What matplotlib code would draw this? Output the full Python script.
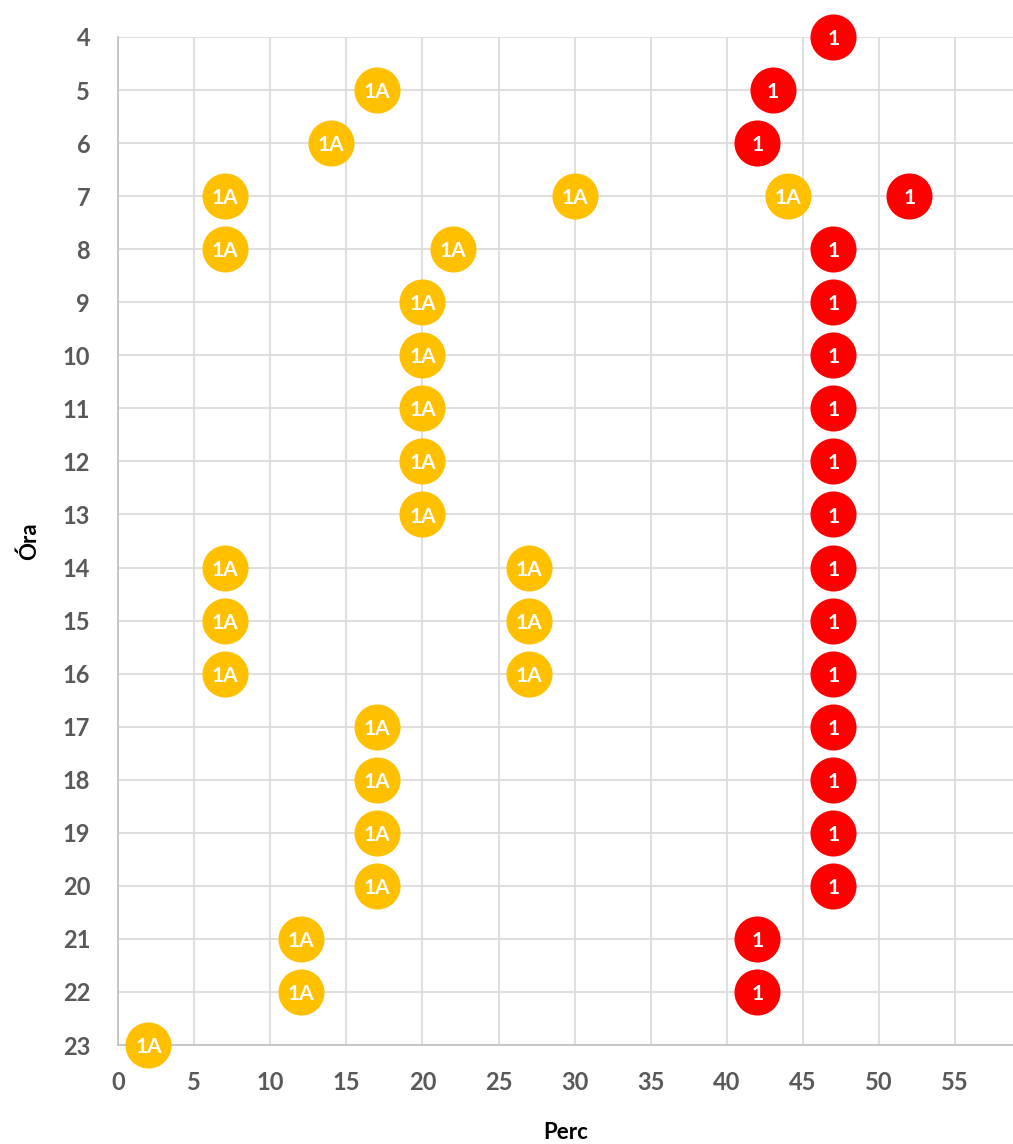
import matplotlib.pyplot as plt
import numpy as np

plt.rcParams['font.family'] = ['Lato', 'DejaVu Sans']

# 1A járat (sárga)
hours_1a = [5, 6, 7, 7, 7, 8, 8, 9, 10, 11, 12, 13, 14, 14, 15, 15, 16, 16,
            17, 18, 19, 20, 21, 22, 23]
mins_1a = [17, 14, 7, 30, 44, 7, 22, 20, 20, 20, 20, 20, 7, 27, 7, 27, 7, 27,
           17, 17, 17, 17, 12, 12, 2]

# 1 járat (piros)
hours_1 = [4, 5, 6, 7, 8, 9, 10, 11, 12, 13, 14, 15, 16, 17, 18, 19, 20, 21, 22]
mins_1 = [47, 43, 42, 52, 47, 47, 47, 47, 47, 47, 47, 47, 47, 47, 47, 47, 47, 42, 42]

x_ticks = list(range(0, 60, 5))
y_ticks = list(range(4, 24))

fig = plt.figure(figsize=(10.13, 11.44), dpi=100)
ax = fig.add_axes([0.1165, 0.0865, 0.8835, 0.8812])

for xs, ys, col, lab in [(mins_1a, hours_1a, '#FFC000', '1A'),
                         (mins_1, hours_1, '#FF0000', '1')]:
    ax.scatter(xs, ys, s=1100, color=col, zorder=3, clip_on=False, linewidths=0)
    for x, y in zip(xs, ys):
        ax.annotate(lab, (x, y), xytext=(0, -1.5), textcoords='offset points',
                    ha='center', va='center', color='white',
                    fontsize=15, fontweight='bold', zorder=4,
                    annotation_clip=False)

ax.set_xlim(0, 58.8)
ax.set_ylim(23, 4)
ax.set_xticks(x_ticks)
ax.set_yticks(y_ticks)
ax.grid(True, color='#D9D9D9', linewidth=1.2)
ax.set_axisbelow(True)
for s in ['top', 'right']:
    ax.spines[s].set_visible(False)
for s in ['left', 'bottom']:
    ax.spines[s].set_color('#BFBFBF')
    ax.spines[s].set_linewidth(1.2)
ax.tick_params(length=0, labelsize=17, labelcolor='#595959')
ax.tick_params(axis='x', pad=19)
ax.tick_params(axis='y', pad=20)
for t in ax.get_xticklabels() + ax.get_yticklabels():
    t.set_fontweight('bold')

ax.set_xlabel('Perc', fontsize=16, fontweight='bold', labelpad=20)
ax.set_ylabel('Óra', fontsize=16, fontweight='bold', labelpad=16)

fig.savefig('out.png', dpi=100)
